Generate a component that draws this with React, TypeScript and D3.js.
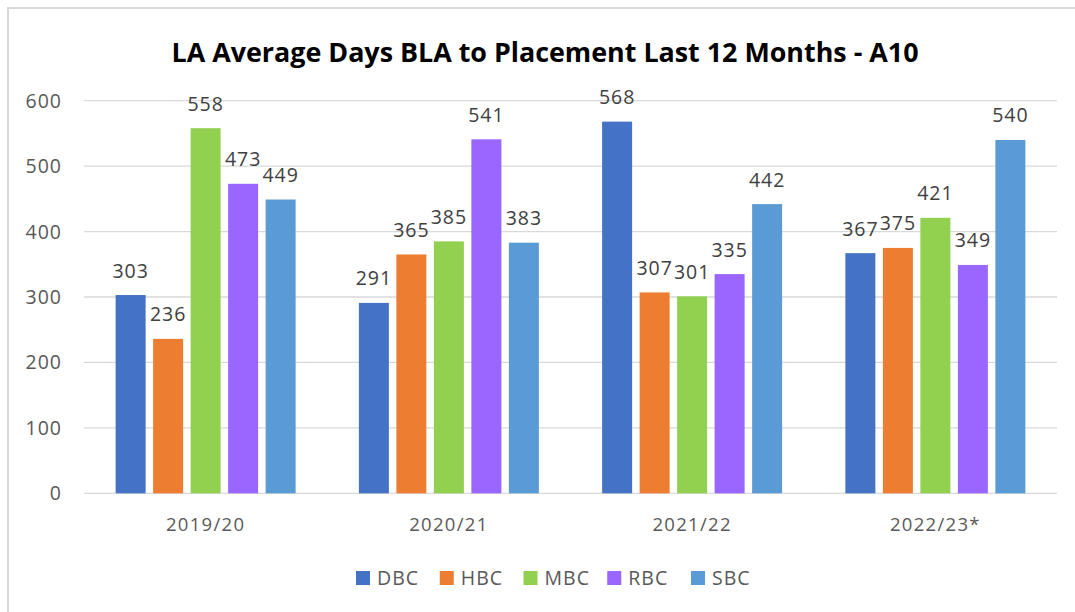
import React from "react";
import * as d3 from "d3";

const categories = ["2019/20", "2020/21", "2021/22", "2022/23*"];
const seriesNames = ["DBC", "HBC", "MBC", "RBC", "SBC"];
const seriesColors = ["#4472C4", "#ED7D31", "#92D050", "#9966FF", "#5B9BD5"];
const DBC = [303, 291, 568, 367];
const HBC = [236, 365, 307, 375];
const MBC = [558, 385, 301, 421];
const RBC = [473, 541, 335, 349];
const SBC = [449, 383, 442, 540];
const seriesValues = [DBC, HBC, MBC, RBC, SBC];
const yTicks = [0, 100, 200, 300, 400, 500, 600];
const title = "LA Average Days BLA to Placement Last 12 Months - A10";

const W = 1075;
const H = 612;
const plotLeft = 84;
const plotRight = 1057;
const yTop = 100.7;
const yBottom = 493.3;
const font = "'Open Sans', 'Noto Sans', sans-serif";
const fs = 19.5;

export default function App() {
  const x0 = d3.scaleBand<string>().domain(categories).range([plotLeft, plotRight]).paddingInner(0).paddingOuter(0);
  const groupW = 180;
  const x1 = d3
    .scaleBand<string>()
    .domain(seriesNames)
    .range([0, groupW])
    .paddingInner(0.2)
    .paddingOuter(0);
  const y = d3.scaleLinear().domain([0, 600]).range([yBottom, yTop]);
  const legendX = d3.scalePoint<string>().domain(seriesNames).range([356, 691]);

  return (
    <svg
      width={W}
      height={H}
      style={{ position: "absolute", left: 0, top: 0, background: "#fff" }}
      fontFamily={font}
    >
      <rect x={0} y={0} width={W} height={H} fill="#fff" />
      <rect x={8} y={8} width={W + 20} height={H + 20} fill="none" stroke="#d9d9d9" strokeWidth={2} />
      <text
        x={545}
        y={62}
        textAnchor="middle"
        fontSize={26}
        fontWeight="bold"
        fill="#000"
        textLength={747}
        lengthAdjust="spacingAndGlyphs"
      >
        {title}
      </text>
      {yTicks.map((t) => (
        <g key={t}>
          <line x1={plotLeft} x2={plotRight} y1={y(t)} y2={y(t)} stroke="#d9d9d9" strokeWidth={1.3} />
          <text
            x={62}
            y={y(t)}
            dy="0.36em"
            textAnchor="end"
            fontSize={fs}
            letterSpacing={1}
            fill="#595959"
          >
            {t}
          </text>
        </g>
      ))}
      {categories.map((c, ci) => {
        const gx = (x0(c) as number) + x0.bandwidth() / 2 - groupW / 2;
        return (
          <g key={c}>
            {seriesNames.map((s, si) => {
              const v = seriesValues[si][ci];
              const bx = gx + (x1(s) as number);
              return (
                <g key={s}>
                  <rect
                    x={bx}
                    y={y(v)}
                    width={x1.bandwidth()}
                    height={y(0) - y(v)}
                    fill={seriesColors[si]}
                  />
                  <text
                    x={bx + x1.bandwidth() / 2}
                    y={y(v) - 17.5}
                    textAnchor="middle"
                    fontSize={fs}
                    letterSpacing={1}
                    fill="#404040"
                  >
                    {v}
                  </text>
                </g>
              );
            })}
            <text
              x={(x0(c) as number) + x0.bandwidth() / 2}
              y={531}
              textAnchor="middle"
              fontSize={18.5}
              letterSpacing={1.3}
              fill="#595959"
            >
              {c}
            </text>
          </g>
        );
      })}
      {seriesNames.map((s, si) => (
        <g key={s} transform={`translate(${legendX(s)},0)`}>
          <rect x={0} y={571} width={14} height={14} fill={seriesColors[si]} />
          <text x={21} y={585} fontSize={fs} letterSpacing={1} fill="#595959">
            {s}
          </text>
        </g>
      ))}
    </svg>
  );
}
